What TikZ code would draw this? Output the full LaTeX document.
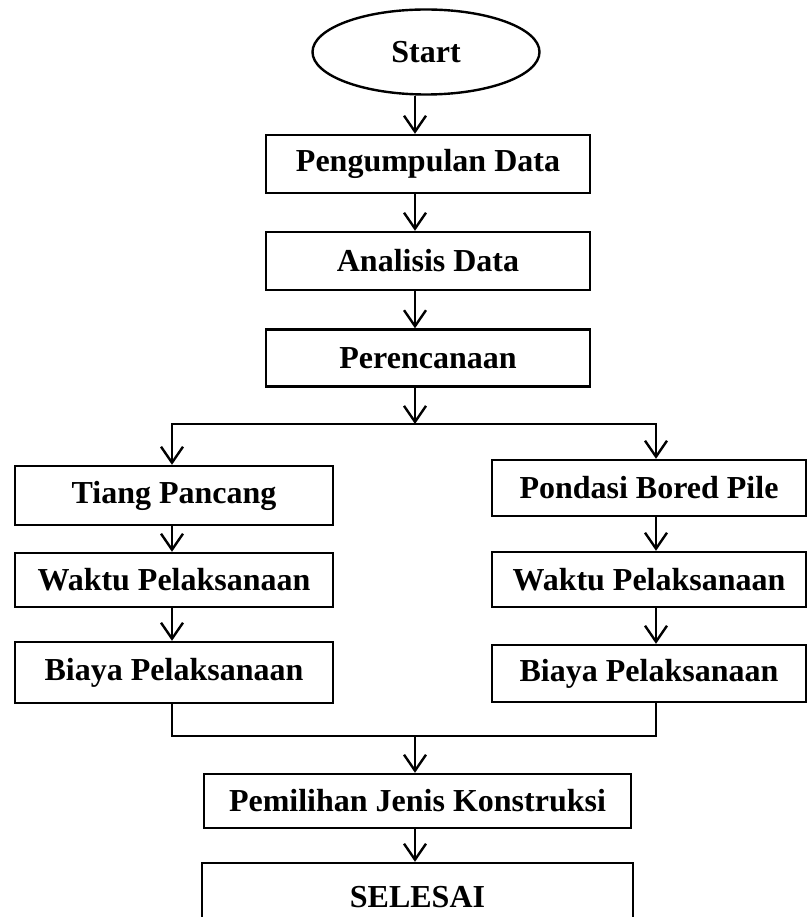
\documentclass[tikz,border=0pt]{standalone}
\usepackage{fontspec}
\setmainfont{Liberation Serif}
\usetikzlibrary{shapes.geometric,arrows.meta}
\tikzstyle{box}=[draw, rectangle, inner sep=0pt, font=\bfseries\fontsize{32}{38}\selectfont]
\tikzstyle{oval}=[draw, ellipse, inner sep=0pt, font=\bfseries\fontsize{32}{38}\selectfont]
\tikzstyle{arr}=[-{Straight Barb[length=16pt,width=22pt]}]

\begin{document}
\begin{tikzpicture}[x=1pt, y=-1pt, line width=2.4pt]
    \useasboundingbox (0,0) rectangle (810,917);
% Columns
    \coordinate (axis) at (415,0);
    \coordinate (colA) at (172,0);
    \coordinate (colB) at (656,0);
% Main line
    \node[oval, minimum width=227, minimum height=85] (start) at (426,52) {Start};
    \node[box, minimum width=324, minimum height=58] (data) at (428,164) {Pengumpulan Data};
    \node[box, minimum width=324, minimum height=58] (analisis) at (428,261) {Analisis Data};
    \node[box, minimum width=324, minimum height=57] (rencana) at (428,358) {Perencanaan};
% Left branch
    \node[box, minimum width=318, minimum height=59] (tiang) at (174,495.5) {Tiang Pancang};
    \node[box, minimum width=318, minimum height=54] (waktuA) at (174,580) {Waktu Pelaksanaan};
    \node[box, minimum width=318, minimum height=61] (biayaA) at (174,672.5) {Biaya Pelaksanaan};
% Right branch
    \node[box, minimum width=314, minimum height=56] (pondasi) at (649,488) {Pondasi Bored Pile};
    \node[box, minimum width=314, minimum height=55] (waktuB) at (649,579.5) {Waktu Pelaksanaan};
    \node[box, minimum width=314, minimum height=57] (biayaB) at (649,673.5) {Biaya Pelaksanaan};
% End
    \node[box, minimum width=427, minimum height=54] (pilih) at (417.5,801) {Pemilihan Jenis Konstruksi};
    \node[box, minimum width=431, minimum height=68] (selesai) at (417.5,897) {SELESAI};
% Arrows
    \coordinate (split) at (415,424);
    \coordinate (merge) at (415,736);
    \draw[arr] (start.south -| axis) -- (data.north -| axis);
    \draw[arr] (data.south -| axis) -- (analisis.north -| axis);
    \draw[arr] (analisis.south -| axis) -- (rencana.north -| axis);
    \draw[arr] (rencana.south -| axis) -- (split);
    \draw[arr] (split) -| (colA |- tiang.north);
    \draw[arr] (split) -| (colB |- pondasi.north);
    \draw[arr] (tiang.south -| colA) -- (waktuA.north -| colA);
    \draw[arr] (waktuA.south -| colA) -- (biayaA.north -| colA);
    \draw[arr] (pondasi.south -| colB) -- (waktuB.north -| colB);
    \draw[arr] (waktuB.south -| colB) -- (biayaB.north -| colB);
    \draw (biayaA.south -| colA) |- (merge) -| (biayaB.south -| colB);
    \draw[arr] (merge) -- (pilih.north -| axis);
    \draw[arr] (pilih.south -| axis) -- (selesai.north -| axis);
\end{tikzpicture}
\end{document}
